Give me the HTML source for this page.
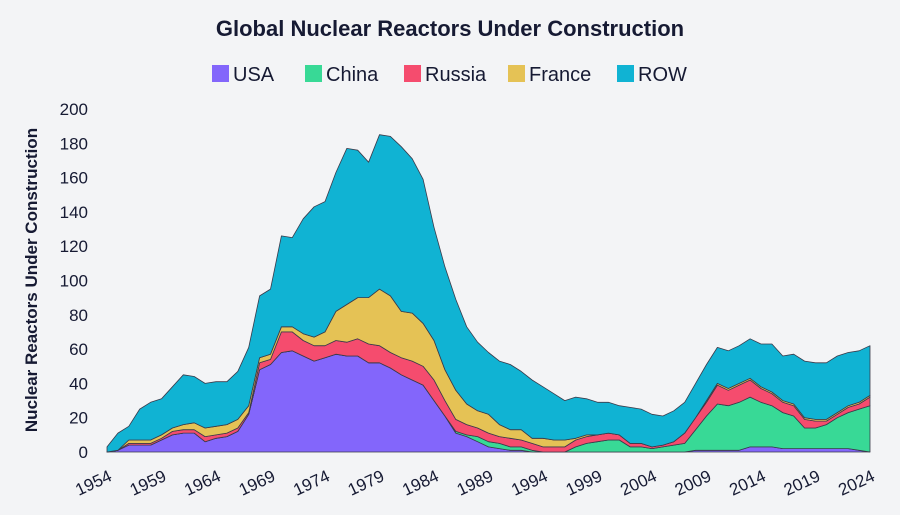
<!DOCTYPE html>
<html><head><meta charset="utf-8"><style>
body{margin:0;background:#f3f4f6;}
svg{display:block;font-family:"Liberation Sans",sans-serif;}
</style></head><body>
<svg id="chart" width="900" height="515" viewBox="0 0 900 515">
<rect width="900" height="515" fill="#f3f4f6"/>
<text x="450" y="36" text-anchor="middle" font-size="22" font-weight="bold" fill="#161a33">Global Nuclear Reactors Under Construction</text>
<g id="legend"></g>
<g id="areas"></g>
<g id="yaxis"></g>
<g id="xaxis"></g>
<text transform="translate(37,280) rotate(-90)" text-anchor="middle" font-size="17" font-weight="bold" fill="#161a33">Nuclear Reactors Under Construction</text>
</svg>
<script>
const years=[];for(let y=1954;y<=2024;y++)years.push(y);
const seriesNames=["USA","China","Russia","France","ROW"];
const usa=[0,1,4,4,4,7,10,11,11,6,8,9,12,22,48,51,58,59,56,53,55,57,56,56,52,52,49,45,42,39,30,21,11,9,6,3,2,1,1,0,0,0,0,0,0,0,0,0,0,0,0,0,0,0,1,1,1,1,1,3,3,3,2,2,2,2,2,2,2,1,0];
const china=[0,0,0,0,0,0,0,0,0,0,0,0,0,0,0,0,0,0,0,0,0,0,0,0,0,0,0,0,0,0,0,0,1,1,3,3,3,2,2,1,0,0,0,3,5,6,7,7,3,3,2,3,4,5,12,20,27,26,28,29,26,24,21,19,12,12,14,18,21,24,27];
const russia=[0,0,1,1,1,1,2,2,2,3,2,2,2,1,4,3,12,11,9,9,7,8,8,10,11,10,9,10,11,11,12,9,7,6,5,5,4,5,4,4,3,3,3,4,4,4,4,3,2,2,1,1,2,6,7,8,11,9,10,10,8,7,6,6,5,4,2,2,3,3,5];
const france=[0,0,2,2,2,2,2,3,4,5,5,5,5,4,3,3,3,3,4,5,8,17,22,24,27,33,33,27,28,25,23,18,17,12,10,11,7,5,6,3,5,4,4,1,1,0,0,0,0,0,0,0,0,0,0,1,1,1,1,1,1,1,1,1,1,1,1,1,1,1,1];
const row=[3,10,8,18,22,21,24,29,27,26,26,25,28,34,36,38,53,52,67,76,76,81,91,86,79,90,93,96,90,84,66,60,53,45,40,36,37,38,34,34,30,27,23,24,21,19,18,17,21,20,19,17,18,18,20,21,21,22,22,23,25,28,26,29,33,33,33,33,31,30,29];
const yTicks=[0,20,40,60,80,100,120,140,160,180,200];
const xTickYears=[1954,1959,1964,1969,1974,1979,1984,1989,1994,1999,2004,2009,2014,2019,2024];
const colors=["#8366fb","#38d996","#f54c6e","#e5c255","#10b3d3"];
const NS="http://www.w3.org/2000/svg";
const x0=107,x1=870,yb=452,yt=109;
const xs=y=>x0+(y-years[0])/(years[years.length-1]-years[0])*(x1-x0);
const ys=v=>yb-v/200*(yb-yt);
function mk(tag,attrs,parent){const e=document.createElementNS(NS,tag);for(const k in attrs)e.setAttribute(k,attrs[k]);parent.appendChild(e);return e;}
const data=[usa,china,russia,france,row];
const areas=document.getElementById('areas');
let base=years.map(()=>0);
data.forEach((s,i)=>{
  const top=base.map((b,j)=>b+s[j]);
  let d="M"+years.map((y,j)=>xs(y).toFixed(1)+","+ys(top[j]).toFixed(1)).join(" L");
  for(let j=years.length-1;j>=0;j--)d+=" L"+xs(years[j]).toFixed(1)+","+ys(base[j]).toFixed(1);
  d+="Z";
  const p=mk('path',{d:d,fill:colors[i],stroke:"#3a3a4a","stroke-width":"0.8","stroke-linejoin":"round"},areas);
  
  
  base=top;
});
const yaxis=document.getElementById('yaxis');
yTicks.forEach(t=>{
  const tx=mk('text',{x:88,y:ys(t)+6,"text-anchor":"end","font-size":"17",fill:"#161a33"},yaxis);
  tx.textContent=t;
  
  
});
const xaxis=document.getElementById('xaxis');
xTickYears.forEach(y=>{
  const px=xs(y)+6,py=480;
  const tx=mk('text',{x:px,y:py,"text-anchor":"end","font-size":"17",fill:"#161a33",transform:`rotate(-25 ${px} ${py})`},xaxis);
  tx.textContent=y;
  
  
});
const legend=document.getElementById('legend');
const lx=[212,305,404,508,617];
seriesNames.forEach((n,i)=>{
  const g=mk('g',{},legend);
  
  
  mk('rect',{x:lx[i],y:65,width:17,height:17,fill:colors[i]},g);
  const t=mk('text',{x:lx[i]+21,y:81,"font-size":"20",fill:"#161a33"},g);
  t.textContent=n;
});
</script>
</body></html>
